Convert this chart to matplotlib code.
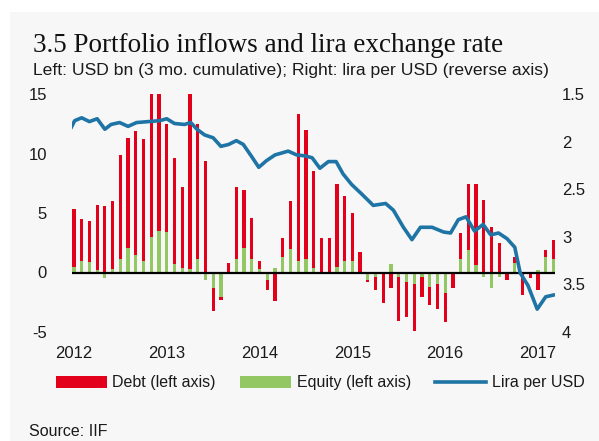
import numpy as np
import matplotlib.pyplot as plt
from matplotlib.patches import Patch, Rectangle
from matplotlib.lines import Line2D

# monthly flows, Jan 2012 - Mar 2017, USD bn (3 mo. cumulative)
debt = [4.8, 3.5, 3.4, 5.5, 5.6, 5.7, 8.8, 9.2, 10.4, 10.2, 12.5, 12.0, 9.1, 8.9, 6.8, 14.9,
        11.4, 9.4, -1.9, -0.2, 0.8, 6.1, 4.8, 3.5, 0.7, -0.9, -2.4, 1.6, 4.0, 12.3, 10.9, 8.1,
        2.9, 2.9, 6.9, 5.4, 4.0, 1.7, -0.2, -1.1, -2.6, -1.3, -3.7, -2.9, -3.9, -1.7, -1.5, -2.1,
        -2.5, -1.3, 2.2, 5.5, 6.8, 6.1, 3.8, 2.5, -0.6, 0.5, -1.9, -0.5, -1.5, 0.6, 1.6]
equity = [0.5, 1.0, 0.9, 0.2, -0.5, 0.3, 1.1, 2.1, 1.5, 1.0, 3.0, 3.5, 3.4, 0.7, 0.4, 0.3,
          1.1, -0.6, -1.3, -2.1, 0.0, 1.1, 2.1, 1.1, 0.3, -0.6, 0.4, 1.3, 2.0, 1.0, 1.1, 0.4,
          0.0, 0.0, 0.5, 1.0, 1.0, 0.0, -0.6, -0.4, 0.0, 0.7, -0.4, -0.8, -1.0, -0.4, -1.2, -1.0,
          -1.7, 0.0, 1.1, 1.9, 0.6, -0.4, -1.3, -0.4, 0.0, 0.8, 0.0, 0.0, 0.2, 1.3, 1.1]

# lira per USD, time in months since Jan 2012
lira_t = [-0.4, 0.1, 1.0, 2.0, 3.0, 4.0, 4.8, 5.9, 7.0, 8.1, 9.6, 11.1, 12.0, 13.0, 14.3,
          15.1, 15.9, 16.9, 18.0, 19.0, 20.0, 21.0, 21.9, 23.0, 23.9, 24.9, 26.0, 27.7, 28.8,
          29.9, 30.8, 31.8, 32.9, 33.9, 34.8, 35.9, 37.2, 38.7, 40.3, 41.3, 42.6, 43.7, 44.8,
          46.3, 47.8, 48.7, 49.7, 50.7, 51.8, 52.9, 53.9, 54.9, 56.0, 57.0, 57.7, 58.7, 59.9,
          61.0, 62.1]
lira = [1.86, 1.78, 1.75, 1.79, 1.76, 1.87, 1.82, 1.80, 1.84, 1.80, 1.79, 1.78, 1.76, 1.81, 1.82,
        1.80, 1.87, 1.93, 1.96, 2.05, 2.03, 1.99, 2.03, 2.16, 2.27, 2.20, 2.14, 2.10, 2.14,
        2.15, 2.17, 2.28, 2.21, 2.21, 2.34, 2.45, 2.55, 2.67, 2.65, 2.72, 2.90, 3.03, 2.90,
        2.90, 2.95, 2.96, 2.82, 2.79, 2.94, 2.87, 2.98, 2.96, 3.02, 3.11, 3.38, 3.51, 3.76,
        3.63, 3.61]

years = ['2012', '2013', '2014', '2015', '2016', '2017']

red = '#e2001a'
green = '#93c763'
blue = '#1f74a6'
bg = '#f7f7f7'
sans = 'Liberation Sans'

fig = plt.figure(figsize=(5.99, 4.41), dpi=100)
fig.patches.append(Rectangle((10 / 599, 0), 1, (441 - 12) / 441, transform=fig.transFigure,
                             facecolor=bg, edgecolor='none', zorder=-10))

ax = fig.add_axes([72 / 599, (441 - 332) / 441, (555 - 72) / 599, 238 / 441])
ax.set_facecolor('none')

x = np.arange(len(debt))
d = np.array(debt)
e = np.array(equity)
d_bottom = np.where(d >= 0, np.maximum(e, 0), np.minimum(e, 0))
ax.bar(x, e, width=0.42, color=green, zorder=2)
ax.bar(x, d, width=0.42, bottom=d_bottom, color=red, zorder=2)
ax.axhline(0, color='black', lw=1.6, zorder=3)

ax.set_xlim(-0.25, 62.2)
ax.set_ylim(-5, 15)
ax.set_yticks([-5, 0, 5, 10, 15])
ax.set_yticklabels(['-5', '0', '5', '10', '15'])
ax.set_xticks(np.arange(len(years)) * 12)
ax.set_xticklabels(years)
for s in ax.spines.values():
    s.set_visible(False)
ax.tick_params(axis='y', length=0, pad=18, labelsize=12)
ax.tick_params(axis='x', length=0, pad=10, labelsize=12)
for lab in ax.get_xticklabels() + ax.get_yticklabels():
    lab.set_family(sans)
    lab.set_color('#1a1a1a')

ax2 = ax.twinx()
ax2.plot(lira_t, lira, color=blue, lw=2.6, zorder=4, solid_capstyle='round')
ax2.set_ylim(4, 1.5)
ax2.set_yticks([1.5, 2, 2.5, 3, 3.5, 4])
ax2.set_yticklabels(['1.5', '2', '2.5', '3', '3.5', '4'])
for s in ax2.spines.values():
    s.set_visible(False)
ax2.tick_params(axis='y', length=0, pad=5, labelsize=12)
for lab in ax2.get_yticklabels():
    lab.set_family(sans)
    lab.set_color('#1a1a1a')

fig.text(33 / 599, 1 - 45 / 441, '3.5 Portfolio inflows and lira exchange rate',
         family='Liberation Serif', fontsize=19.5, va='center', color='#111111')
fig.text(33 / 599, 1 - 70 / 441,
         'Left: USD bn (3 mo. cumulative); Right: lira per USD (reverse axis)',
         family=sans, fontsize=12.6, va='center', color='#1a1a1a')

handles = [Patch(facecolor=red, label='Debt (left axis)'),
           Patch(facecolor=green, label='Equity (left axis)'),
           Line2D([], [], color=blue, lw=2.6, label='Lira per USD')]
leg = fig.legend(handles=handles, loc='center', bbox_to_anchor=(320 / 599, 1 - 383 / 441),
                 ncol=3, frameon=False, handlelength=3.2, handleheight=0.75,
                 handletextpad=0.35, columnspacing=1.5,
                 prop={'family': sans, 'size': 11.5})
for t in leg.get_texts():
    t.set_color('#1a1a1a')

fig.text(29 / 599, 1 - 432 / 441, 'Source: IIF', family=sans, fontsize=11.5,
         va='center', color='#1a1a1a')

fig.savefig('out.png', dpi=100)
